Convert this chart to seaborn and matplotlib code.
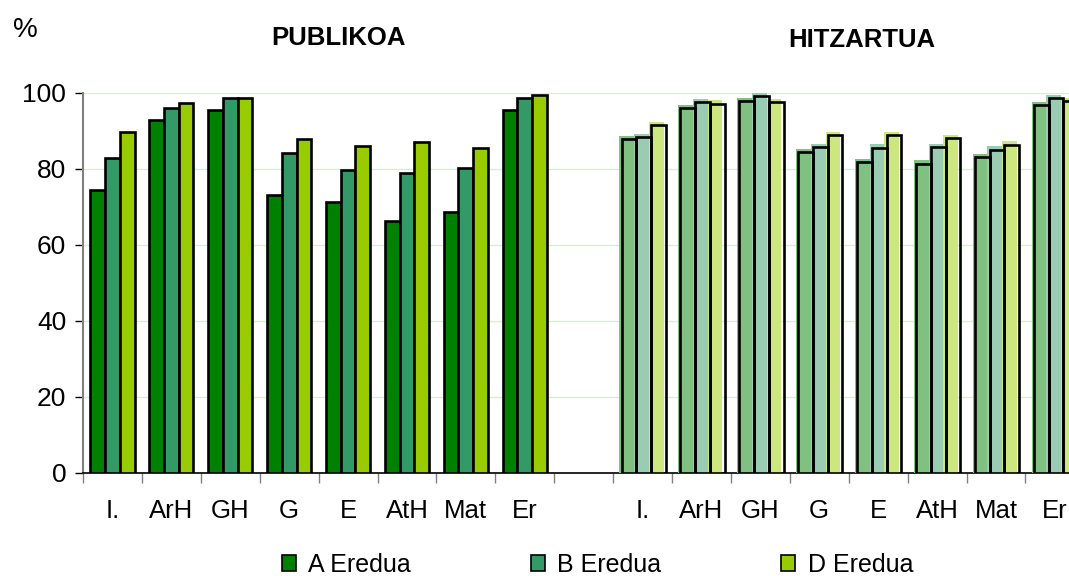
import matplotlib
matplotlib.use("Agg")
import matplotlib.pyplot as plt
from matplotlib.patches import Rectangle, Patch
import pandas as pd
import seaborn as sns

sns.set_style(style='white')
plt.rcParams['font.family'] = ['Liberation Sans', 'DejaVu Sans']
plt.rcParams['text.color'] = 'black'
plt.rcParams['xtick.color'] = 'black'
plt.rcParams['ytick.color'] = 'black'

# values (%)
subjects = ["I.", "ArH", "GH", "G", "E", "AtH", "Mat", "Er"]
models = ["A Eredua", "B Eredua", "D Eredua"]

publikoa_A = [74.5, 93.0, 95.5, 73.2, 71.2, 66.3, 68.7, 95.5]
publikoa_B = [82.8, 96.1, 98.6, 84.2, 79.7, 78.9, 80.3, 98.6]
publikoa_D = [89.7, 97.4, 98.6, 87.9, 86.0, 87.2, 85.4, 99.4]

hitzartua_A = [88.2, 96.2, 98.2, 84.8, 82.2, 81.7, 83.5, 97.1]
hitzartua_B = [88.7, 98.0, 99.5, 86.1, 85.9, 86.0, 85.4, 98.9]
hitzartua_D = [91.8, 97.5, 98.0, 89.2, 89.2, 88.5, 86.7, 98.2]

dark_colors = ["#008000", "#339966", "#99cc00"]
light_colors = ["#80c080", "#99ccb3", "#cce680"]

# slots on the x axis: 8 public, an empty one, 8 concerted
pub_slots = ["P " + s for s in subjects]
hit_slots = ["H " + s for s in subjects]
order = pub_slots + ["gap"] + hit_slots
tick_labels = subjects + [""] + subjects


def long_frame(slots, a, b, d):
    rows = []
    for vals, m in zip([a, b, d], models):
        for s, v in zip(slots, vals):
            rows.append({"slot": s, "model": m, "value": v})
    return pd.DataFrame(rows)


df_pub = long_frame(pub_slots, publikoa_A, publikoa_B, publikoa_D)
df_hit = long_frame(hit_slots, hitzartua_A, hitzartua_B, hitzartua_D)

fig = plt.figure(figsize=(10.69, 5.76), dpi=100)
# axes runs past the right edge, like the original (last group is cut)
ax = fig.add_axes([83 / 1069, 103 / 576, 17 * 58.9 / 1069, 380 / 576])

sns.barplot(data=df_pub, x="slot", y="value", hue="model", order=order,
            hue_order=models, palette=dark_colors, width=0.75, saturation=1,
            edgecolor="black", linewidth=1.9, legend=False, ax=ax, zorder=3)
n_pub = len(ax.patches)

sns.barplot(data=df_hit, x="slot", y="value", hue="model", order=order,
            hue_order=models, palette=light_colors, width=0.75, saturation=1,
            linewidth=0, legend=False, ax=ax, zorder=3)

# concerted bars: light fill shifted up-left, black outline drawn over it
dx = 2.2 / 58.9
dy = 0.55
for p in ax.patches[n_pub:]:
    x, w, h = p.get_x(), p.get_width(), p.get_height()
    if h <= 0:
        continue
    p.set_x(x - dx / 2)
    p.set_height(h + dy)
    ax.add_patch(Rectangle((x + dx / 2, 0), w, h - dy / 2, fill=False,
                           edgecolor="black", linewidth=1.9, zorder=4))

ax.set_ylim(0, 100)
ax.set_xlim(-0.5, 16.5)
ax.set_yticks([0, 20, 40, 60, 80, 100])
ax.yaxis.grid(True, color="#ccf5cc", linewidth=1, zorder=0)
ax.set_axisbelow(True)

# tick marks between categories, labels at the centres
ax.set_xticks([k + 0.5 for k in range(-1, 17)])
ax.set_xticklabels([])
ax.set_xticks(range(17), minor=True)
ax.set_xticklabels(tick_labels, minor=True, fontsize=18.5)
ax.tick_params(axis="x", which="major", length=7, width=1, color="#808080",
               direction="out", bottom=True)
ax.tick_params(axis="x", which="minor", length=0, pad=19)
ax.tick_params(axis="y", length=6, width=1, color="black", direction="out",
               left=True, labelsize=19, pad=6)

ax.set_xlabel("")
ax.set_ylabel("")
for side in ["top", "right"]:
    ax.spines[side].set_visible(False)
ax.spines["left"].set_color("#808080")
ax.spines["left"].set_linewidth(1.5)
ax.spines["bottom"].set_color("black")
ax.spines["bottom"].set_linewidth(1.2)

fig.text(0.024, 0.948, "%", fontsize=20, ha="center", va="center")
fig.text(0.317, 0.934, "PUBLIKOA", fontsize=18.5, fontweight="bold",
         ha="center", va="center")
fig.text(0.806, 0.930, "HITZARTUA", fontsize=18.5, fontweight="bold",
         ha="center", va="center")

handles = [Patch(facecolor=c, edgecolor="black", linewidth=1.2)
           for c in dark_colors]
fig.legend(handles, models, loc="lower center", bbox_to_anchor=(0.559, -0.04),
           ncol=3, frameon=False, fontsize=18, handlelength=0.55,
           handleheight=0.6, handletextpad=0.5, columnspacing=4.8)

fig.savefig("out.png", dpi=100)
